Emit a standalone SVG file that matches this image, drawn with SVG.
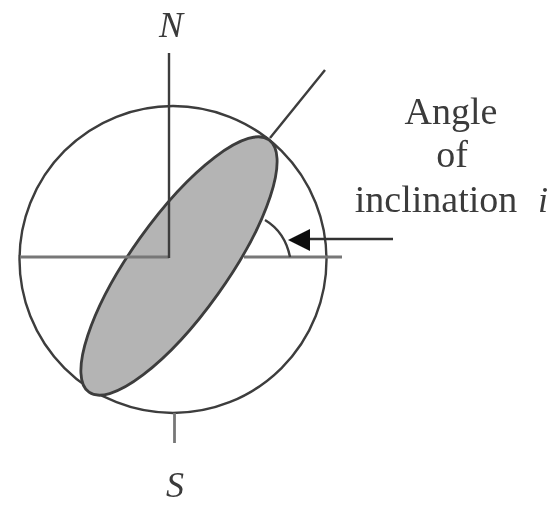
<svg xmlns="http://www.w3.org/2000/svg" width="559" height="506" viewBox="0 0 559 506">
<defs><filter id="soft" x="-5%" y="-5%" width="110%" height="110%"><feGaussianBlur stdDeviation="0.7"/></filter></defs>
<style>
.l{fill:none;stroke:#3c3c3c;stroke-width:2.4}
.g{fill:none;stroke:#777;stroke-width:2.8}
text{font-family:"Liberation Serif",serif;fill:#3a3a3a;font-size:38px;text-anchor:middle}
.i{font-style:italic;font-size:36px}
</style>
<rect width="559" height="506" fill="#fff"/>
<g filter="url(#soft)">
<g id="sphere"><circle class="l" cx="173" cy="259.5" r="153.5"/></g>
<g id="orbit"><ellipse cx="179" cy="266" rx="155" ry="48" transform="rotate(-54.5 179 266)" fill="#b4b4b4" stroke="#3c3c3c" stroke-width="2.8"/></g>
<g id="connectors">
<line class="g" x1="20" y1="257" x2="169" y2="257"/>
<line class="g" x1="244" y1="257" x2="342" y2="257"/>
<line class="l" x1="169" y1="53" x2="169" y2="258" stroke-width="3"/>
<line class="g" x1="174.500" y1="413" x2="174.500" y2="443"/>
<line class="l" x1="270" y1="138" x2="325" y2="70"/>
<path class="l" d="M265 220Q285 232 290 257"/>
<line x1="305" y1="239" x2="393" y2="239" stroke="#333" stroke-width="2.6"/>
<polygon points="288,240 310,229 310,251" fill="#111"/>
</g>
<g id="label-n"><text class="i" x="171" y="37">N</text></g>
<g id="label-s"><text class="i" x="175" y="497">S</text></g>
<g id="label-angle">
<text x="451" y="124">Angle</text>
<text x="452" y="167">of</text>
<text x="436" y="212">inclination</text>
<text class="i" x="543" y="212">i</text>
</g>
</g>
</svg>
